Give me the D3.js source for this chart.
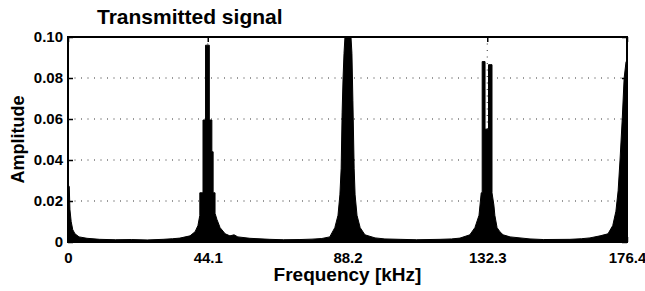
<!DOCTYPE html>
<html>
<head>
<meta charset="utf-8">
<script src="https://cdn.jsdelivr.net/npm/d3@7"></script>
<style>
  body { margin: 0; background: #fff; }
  text { font-family: "Liberation Sans", Arial, sans-serif; font-weight: bold; fill: #000; }
</style>
</head>
<body>
<svg width="645" height="291"></svg>
<script>
// spectrum outline: frequency in kHz, amplitude
const freqs = [
  0, 0.4, 0.6, 1.0, 1.5, 2.2, 3.5, 6, 10, 15, 20, 25, 30, 33, 35.3,
  38.5, 40.1, 41.0, 41.6, 41.6, 42.6, 42.6, 43.4, 43.4, 44.6, 44.6, 45.4, 45.4, 45.8, 45.8,
  46.4, 46.4, 47.0, 48.0, 49.6, 51.1, 52.4, 53.6, 57.4, 63.7, 68, 73.2, 77, 80.1,
  82.6, 84.2, 85.2, 85.8, 86.2, 86.5, 86.8, 87.1, 87.4, 89.3, 89.6, 89.9, 90.3, 90.6,
  91.2, 92.2, 93.7, 96.9, 100, 104.8, 110, 117.4, 121, 123.7,
  126.8, 128.4, 129.7, 130.4, 130.7, 130.7, 131.6, 131.6, 132.7, 132.7, 133.8, 133.8,
  134.4, 134.7, 135.4, 136.3, 137.3, 139.5, 145.8, 150, 158.4, 162, 164.7, 167.9,
  170.4, 171.9, 172.9, 173.6, 174.2, 174.9, 175.5, 176.1, 176.4
];
const amps = [
  0.028, 0.027, 0.016, 0.010, 0.006, 0.004, 0.0025, 0.0018, 0.0013, 0.0011, 0.0012, 0.0010, 0.0013, 0.0016, 0.0019,
  0.003, 0.005, 0.008, 0.013, 0.024, 0.024, 0.0595, 0.0595, 0.096, 0.096, 0.0595, 0.0595, 0.044, 0.044, 0.024,
  0.024, 0.014, 0.011, 0.007, 0.004, 0.003, 0.0035, 0.0025, 0.0018, 0.0013, 0.0011, 0.0012, 0.0014, 0.0017,
  0.0025, 0.007, 0.013, 0.023, 0.036, 0.063, 0.080, 0.092, 0.100, 0.100, 0.092, 0.069, 0.036, 0.023,
  0.013, 0.007, 0.0035, 0.002, 0.0015, 0.0013, 0.0011, 0.0013, 0.0015, 0.0019,
  0.0035, 0.007, 0.013, 0.024, 0.024, 0.088, 0.088, 0.055, 0.055, 0.0865, 0.0865, 0.024,
  0.018, 0.013, 0.007, 0.005, 0.0035, 0.0025, 0.0015, 0.0012, 0.0013, 0.0016, 0.002, 0.003,
  0.004, 0.008, 0.015, 0.025, 0.040, 0.060, 0.080, 0.088, 0.088
];
const spectrum = freqs.map((f, i) => ({ f, a: amps[i] }));

const xTicks = [0, 44.1, 88.2, 132.3, 176.4];
const yTicks = [0, 0.02, 0.04, 0.06, 0.08, 0.10];
const gridX = [44.1, 88.2, 132.3];
const gridY = [0.02, 0.04, 0.06, 0.08];

const svg = d3.select('svg');
const margin = { left: 68, right: 18, top: 37, bottom: 49 };
const width = +svg.attr('width') - margin.left - margin.right;
const height = +svg.attr('height') - margin.top - margin.bottom;

const x = d3.scaleLinear().domain([0, 176.4]).range([0, width]);
const y = d3.scaleLinear().domain([0, 0.1]).range([height, 0]);

const g = svg.append('g')
    .attr('transform', `translate(${margin.left},${margin.top})`);

// dotted grid
g.append('g').selectAll('line').data(gridY).join('line')
    .attr('x1', 0).attr('x2', width)
    .attr('y1', d => y(d)).attr('y2', d => y(d))
    .attr('stroke', '#333').attr('stroke-width', 1)
    .attr('stroke-dasharray', '1,5.5');
g.append('g').selectAll('line').data(gridX).join('line')
    .attr('y1', 0).attr('y2', height)
    .attr('x1', d => x(d)).attr('x2', d => x(d))
    .attr('stroke', '#333').attr('stroke-width', 1)
    .attr('stroke-dasharray', '1,5.5');

// spectrum
g.append('path')
    .datum(spectrum)
    .attr('fill', '#000')
    .attr('stroke', '#000')
    .attr('stroke-width', 1)
    .attr('d', d3.area().x(d => x(d.f)).y0(height).y1(d => y(d.a)));

// axes with inward ticks on all sides
const fmtY = d => d === 0 ? '0' : d.toFixed(2);
const fmtX = d => d === 0 ? '0' : d.toFixed(1);

g.append('g')
    .attr('transform', `translate(0,${height})`)
    .call(d3.axisBottom(x).tickValues(xTicks).tickSize(-5).tickPadding(10).tickFormat(fmtX));
g.append('g')
    .call(d3.axisLeft(y).tickValues(yTicks).tickSize(-5).tickPadding(5).tickFormat(fmtY));
g.append('g')
    .call(d3.axisTop(x).tickValues(xTicks).tickSize(-5).tickFormat(''));
g.append('g')
    .attr('transform', `translate(${width},0)`)
    .call(d3.axisRight(y).tickValues(yTicks).tickSize(-5).tickFormat(''));

g.selectAll('.domain').remove();
g.selectAll('.tick line').attr('stroke', '#000').attr('stroke-width', 1.5);
g.selectAll('.tick text').style('font-size', '15px');

g.append('rect')
    .attr('width', width).attr('height', height)
    .attr('fill', 'none').attr('stroke', '#000').attr('stroke-width', 2);

// labels
svg.append('text')
    .attr('x', 97).attr('y', 24)
    .style('font-size', '21px')
    .text('Transmitted signal');

svg.append('text')
    .attr('x', margin.left + width / 2).attr('y', 281)
    .attr('text-anchor', 'middle')
    .style('font-size', '19px')
    .text('Frequency [kHz]');

svg.append('text')
    .attr('transform', `translate(24,${margin.top + height / 2}) rotate(-90)`)
    .attr('text-anchor', 'middle')
    .style('font-size', '18px')
    .text('Amplitude');
</script>
</body>
</html>
